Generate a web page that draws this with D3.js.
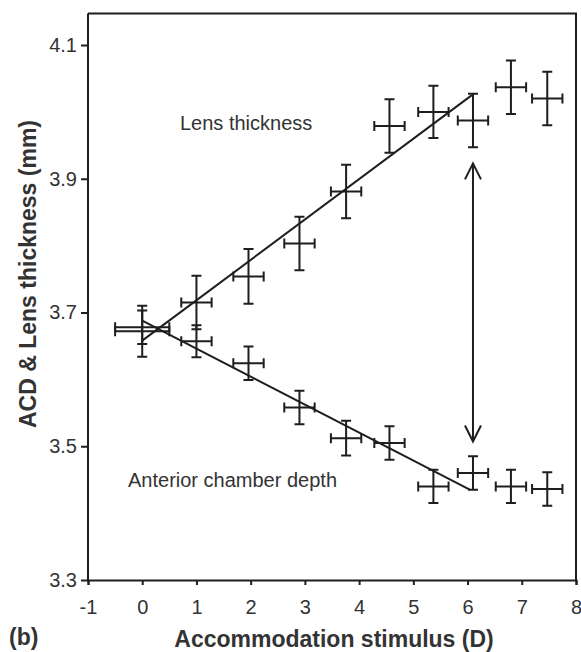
<!DOCTYPE html>
<html>
<head>
<meta charset="utf-8">
<script src="https://cdn.jsdelivr.net/npm/d3@7"></script>
<style>
  body { margin: 0; background: #fff; }
  text { font-family: Arial, "Liberation Sans", sans-serif; fill: #333; }
</style>
</head>
<body>
<svg id="chart" width="581" height="652"></svg>
<script>
// stimulus (D) for every measurement
const stimulus = [0, 1, 1.96, 2.9, 3.76, 4.56, 5.37, 6.1, 6.8, 7.47];
const stimulusErr = [0.5, 0.28, 0.28, 0.28, 0.28, 0.28, 0.28, 0.28, 0.28, 0.28];

// lens thickness (mm)
const lensThickness = [3.672, 3.715, 3.754, 3.803, 3.881, 3.979, 4.0, 3.987, 4.037, 4.02];
const lensErr = [0.038, 0.04, 0.041, 0.04, 0.04, 0.04, 0.039, 0.04, 0.04, 0.04];

// anterior chamber depth (mm)
const acd = [3.678, 3.657, 3.624, 3.558, 3.512, 3.505, 3.44, 3.46, 3.44, 3.436];
const acdErr = [0.025, 0.024, 0.025, 0.025, 0.026, 0.025, 0.025, 0.025, 0.025, 0.025];

// fitted lines [x, y]
const lensFit = [[0, 3.658], [6.08, 4.025]];
const acdFit = [[0, 3.688], [6.04, 3.435]];

// double arrow between the two curves
const arrowPts = [[6.1, 3.923], [6.1, 3.507]];

const xTicks = [-1, 0, 1, 2, 3, 4, 5, 6, 7, 8];
const yTicks = [3.3, 3.5, 3.7, 3.9, 4.1];

const ink = "#1e1e1e";
const svg = d3.select("#chart");

const xScale = d3.scaleLinear().domain([-1, 8]).range([88, 576]);
const yScale = d3.scaleLinear().domain([3.3, 4.1]).range([580, 45]);
const yTop = 4.147;

// frame (top and right)
svg.append("path")
  .attr("d", `M${xScale(-1)},${yScale(yTop)} H${xScale(8)} V${yScale(3.3)}`)
  .attr("fill", "none")
  .attr("stroke", ink)
  .attr("stroke-width", 2);

// axes
const xAxis = d3.axisBottom(xScale).tickValues(xTicks).tickSize(5).tickPadding(15)
  .tickFormat(d => String(d));
const gx = svg.append("g")
  .attr("transform", `translate(0,${yScale(3.3)})`)
  .call(xAxis);

const yAxis = d3.axisLeft(yScale).tickValues(yTicks).tickSize(7).tickPadding(4)
  .tickFormat(d3.format(".1f"));
const gy = svg.append("g")
  .attr("transform", `translate(${xScale(-1)},0)`)
  .call(yAxis);

gy.select(".domain").attr("d", `M0,${yScale(yTop)}V${yScale(3.3)}`);

[gx, gy].forEach(g => {
  g.select(".domain").attr("stroke", ink).attr("stroke-width", 2);
  g.selectAll(".tick line").attr("stroke", ink).attr("stroke-width", 2);
  g.selectAll(".tick text")
    .style("font-size", "20px")
    .style("font-family", "Arial, 'Liberation Sans', sans-serif")
    .attr("fill", "#333");
});

// fitted lines
const lineGen = d3.line().x(d => xScale(d[0])).y(d => yScale(d[1]));
svg.selectAll(".fit")
  .data([lensFit, acdFit])
  .join("path")
    .attr("class", "fit")
    .attr("d", lineGen)
    .attr("fill", "none")
    .attr("stroke", ink)
    .attr("stroke-width", 2);

// error-bar crosses
const cap = 5;
const drawCrosses = (values, errs, cls) => {
  const data = stimulus.map((s, i) => ({ x: s, xe: stimulusErr[i], y: values[i], ye: errs[i] }));
  const g = svg.append("g").attr("class", cls)
    .attr("stroke", ink).attr("stroke-width", 2).attr("fill", "none");
  g.selectAll("path")
    .data(data)
    .join("path")
      .attr("d", d => {
        const x0 = xScale(d.x - d.xe), x1 = xScale(d.x + d.xe), cx = xScale(d.x);
        const y0 = yScale(d.y + d.ye), y1 = yScale(d.y - d.ye), cy = yScale(d.y);
        return `M${x0},${cy}H${x1}` +
          `M${x0},${cy - cap}V${cy + cap}M${x1},${cy - cap}V${cy + cap}` +
          `M${cx},${y0}V${y1}` +
          `M${cx - cap},${y0}H${cx + cap}M${cx - cap},${y1}H${cx + cap}`;
      });
};
drawCrosses(lensThickness, lensErr, "lens");
drawCrosses(acd, acdErr, "acd");

// double arrow
svg.append("defs").append("marker")
  .attr("id", "head")
  .attr("viewBox", "0 0 20 20")
  .attr("refX", 18).attr("refY", 10)
  .attr("markerWidth", 20).attr("markerHeight", 20)
  .attr("markerUnits", "userSpaceOnUse")
  .attr("orient", "auto-start-reverse")
  .append("path")
    .attr("d", "M2,2 L18,10 L2,18")
    .attr("fill", "none")
    .attr("stroke", ink)
    .attr("stroke-width", 2);

svg.append("path")
  .attr("d", lineGen(arrowPts))
  .attr("stroke", ink)
  .attr("stroke-width", 2)
  .attr("marker-start", "url(#head)")
  .attr("marker-end", "url(#head)");

// annotations
svg.append("text")
  .attr("x", 180).attr("y", 130)
  .style("font-size", "20px")
  .text("Lens thickness");

svg.append("text")
  .attr("x", 128).attr("y", 487)
  .style("font-size", "20px")
  .text("Anterior chamber depth");

// axis titles
svg.append("text")
  .attr("x", 334).attr("y", 647)
  .attr("text-anchor", "middle")
  .style("font-size", "23px")
  .style("font-weight", "bold")
  .text("Accommodation stimulus (D)");

svg.append("text")
  .attr("transform", "translate(36,274) rotate(-90)")
  .attr("text-anchor", "middle")
  .style("font-size", "23px")
  .style("font-weight", "bold")
  .text("ACD & Lens thickness (mm)");

svg.append("text")
  .attr("x", 9).attr("y", 645)
  .style("font-size", "23px")
  .style("font-weight", "bold")
  .text("(b)");
</script>
</body>
</html>
